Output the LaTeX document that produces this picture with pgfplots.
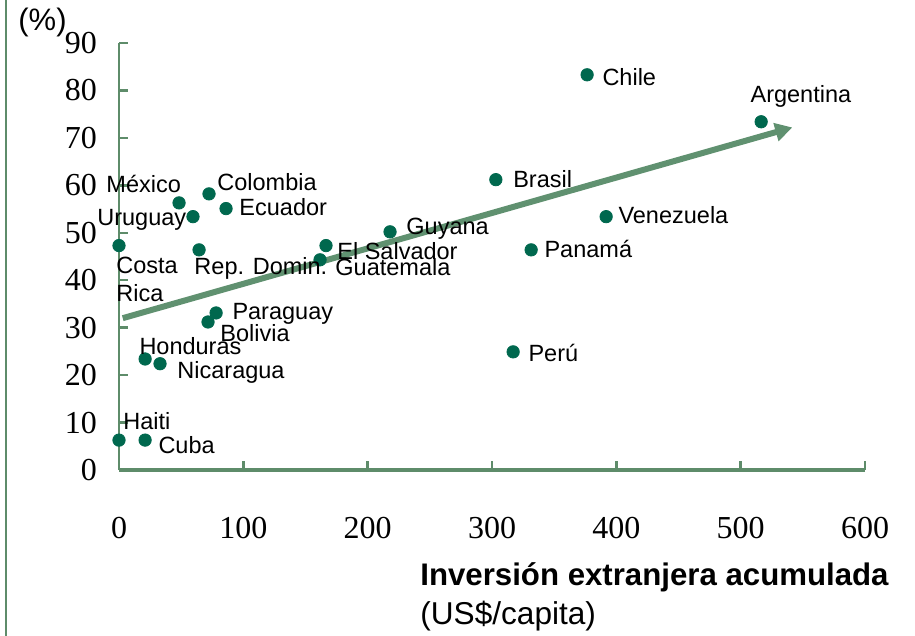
\documentclass[border=0pt]{standalone}
\usepackage{pgfplots}
\pgfplotsset{compat=1.18}
\usepackage{pgfplotstable}
\usetikzlibrary{arrows.meta}
\usepackage{fontspec}
\setmainfont{Liberation Sans}
\newfontfamily\serif{Liberation Serif}
\newcommand\lab{\fontsize{11.75}{14}\selectfont}
\newcommand\costarica{\begin{tabular}[t]{@{}l@{}}Costa\\Rica\end{tabular}}
\definecolor{axisgreen}{RGB}{94,140,106}
\definecolor{arrowgreen}{RGB}{96,145,112}
\definecolor{dotgreen}{RGB}{0,104,78}

% x: inversion acumulada (US$/capita), y: %, label offsets in pt
\pgfplotstableread[col sep=comma]{
x,y,label,xs,ys
376.5,83.3,Chile,7.5,-5.5
516.5,73.4,Argentina,-5.5,9.5
303.1,61.2,Brasil,8.5,-4
391.8,53.4,Venezuela,6,-3.5
331.5,46.4,Panamá,6.5,-4
317.0,24.9,Perú,7.5,-5
218.0,50.2,Guyana,8,-1.5
166.5,47.3,El Salvador,5.5,-7
161.7,44.3,Guatemala,7.5,-8
72.4,58.2,Colombia,4,1.5
48.3,56.3,México,-36.5,5
86.1,55.1,Ecuador,6.5,-3.5
59.5,53.4,Uruguay,-48,-4.5
0,47.3,\costarica,-1.5,-14
64.4,46.4,Rep. Domin.,-2.5,-12.5
78.1,33.1,Paraguay,8,-3.5
71.6,31.2,Bolivia,6,-10
21.0,23.4,Honduras,-3,2
33.0,22.4,Nicaragua,8.5,-7.5
0,6.3,Haiti,2,5.5
21.0,6.3,Cuba,6.5,-6.5
}\paises

\begin{document}
\begin{tikzpicture}
\useasboundingbox (0,0) rectangle (457.5pt,318pt);
\draw[axisgreen, line width=1pt] (3pt,0) -- (3pt,318pt);
\begin{axis}[
  at={(59.5pt,83pt)}, anchor=south west,
  scale only axis, width=373pt, height=213.5pt,
  xmin=0, xmax=600, ymin=0, ymax=90,
  xtick={0,100,...,600}, ytick={0,10,...,90},
  axis x line*=bottom, axis y line*=left,
  x axis line style={line width=2pt, axisgreen},
  y axis line style={line width=1pt, axisgreen},
  tick align=inside, major tick length=4.5pt,
  tick style={line width=1.2pt, axisgreen},
  ticklabel style={font=\serif\fontsize{16}{16}\selectfont, text=black},
  /pgf/number format/assume math mode=true,
  xticklabel style={anchor=center, yshift=-29pt},
  yticklabel style={anchor=east, xshift=-7.5pt},
  clip=false
]
\addplot[line width=3pt, arrowgreen, -{Triangle[length=8.5pt,width=9pt]}]
  coordinates {(3,32) (541.5,72.2)};
\addplot[only marks, mark=*, mark size=3.1pt, dotgreen,
  mark options={draw=dotgreen, fill=dotgreen},
  point meta=explicit symbolic,
  visualization depends on={\thisrow{xs}\as\xs},
  visualization depends on={\thisrow{ys}\as\ys},
  nodes near coords,
  every node near coord/.append style={anchor=base west, inner sep=0pt,
    xshift=\xs pt, yshift=\ys pt, text=black, font=\lab}
] table[x=x, y=y, meta=label] {\paises};
\end{axis}
\node[anchor=base west, inner sep=0pt, font=\fontsize{15.5}{16}\selectfont] at (9pt,302.5pt) {(\%)};
\node[anchor=base west, inner sep=0pt, font=\fontsize{15.6}{18}\selectfont\bfseries] at (210pt,25pt) {Inversión extranjera acumulada};
\node[anchor=base west, inner sep=0pt, font=\fontsize{15.8}{18}\selectfont] at (210pt,5.5pt) {(US\$/capita)};
\end{tikzpicture}
\end{document}
